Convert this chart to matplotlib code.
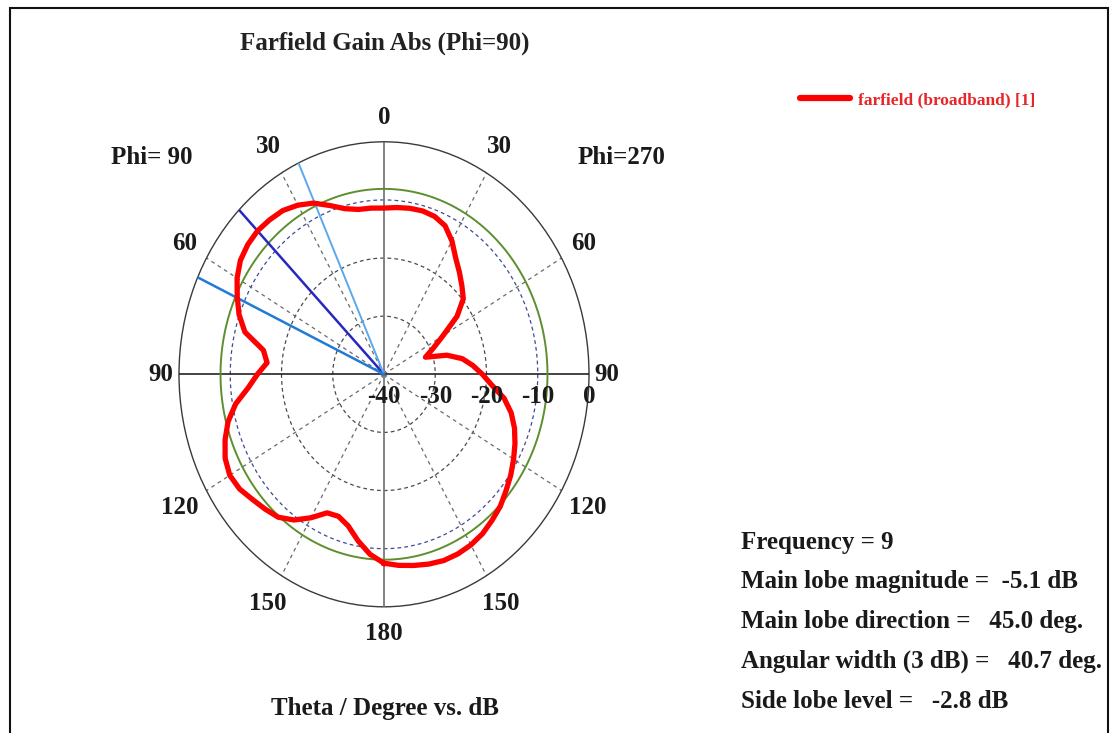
import numpy as np
import matplotlib
matplotlib.use("Agg")
import matplotlib.pyplot as plt
from matplotlib import transforms
from matplotlib.lines import Line2D
from matplotlib.patches import Rectangle

# Farfield gain cut (dB). Positive theta runs on the Phi=90 half (left),
# negative theta on the Phi=270 half (right).
theta_deg = [-180, -175, -170, -165, -160, -155, -150, -145, -140, -135,
             -130, -125, -120, -115, -110, -105, -100, -95, -90, -85,
             -80, -75, -70, -65, -60, -55, -50, -45, -40, -35,
             -30, -25, -20, -15, -10, -5, 0, 5, 10, 15,
             20, 25, 30, 35, 40, 45, 50, 55, 60, 65,
             70, 75, 80, 85, 90, 95, 100, 105, 110, 115,
             120, 125, 130, 135, 140, 145, 150, 155, 160, 165,
             170, 175, 180]
gain_db = [-7.5, -7.0, -6.6, -6.2, -5.9, -5.9, -6.1, -6.5, -7.2, -7.9,
           -8.9, -9.8, -10.8, -11.8, -12.9, -14.3, -16.2, -18.9, -20.8, -22.6,
           -24.5, -27.3, -31.4, -29.4, -26.7, -22.6, -19.8, -18.5, -17.1, -15.6,
           -13.5, -11.8, -11.1, -10.9, -11.0, -11.2, -11.4, -11.3, -11.2, -10.5,
           -9.1, -7.5, -6.4, -5.6, -5.3, -5.1, -5.3, -5.8, -6.9, -8.4,
           -9.9, -11.9, -16.1, -17.1, -15.3, -13.4, -10.6, -8.5, -7.0, -5.8,
           -5.25, -5.6, -6.5, -7.2, -7.9, -9.4, -11.5, -13.7, -14.0, -13.0,
           -10.9, -8.9, -7.5]

# Result summary
frequency = 9
main_lobe_mag = -5.1      # dB
main_lobe_dir = 45.0      # deg
angular_width = 40.7      # deg (3 dB)
side_lobe_level = -2.8    # dB

ring_levels = [-30, -20, -10]
radial_labels = [-40, -30, -20, -10, 0]
angle_labels = [0, 30, 60, 90, 120, 150, 180]
spoke_angles = [30, 60, 120, 150]

plt.rcParams['font.family'] = ['Liberation Serif', 'DejaVu Serif']
plt.rcParams['font.weight'] = 'bold'

W, H = 1113, 733
fig = plt.figure(figsize=(W / 100, H / 100), dpi=100)
fig.patch.set_facecolor('white')

# elliptical polar frame
cx, cy, rx, ry = 384, 374.3, 205, 232.5
ax = fig.add_axes([(cx - rx) / W, (H - cy - ry) / H, 2 * rx / W, 2 * ry / H],
                  projection='polar')
ax.set_aspect('auto')
ax.set_theta_zero_location('N')
ax.set_theta_direction(1)
ax.set_rlim(-40, 0)
ax.set_xticks([])
ax.set_yticks([])
ax.grid(False)
ax.spines['polar'].set_color('#3a3a3a')
ax.spines['polar'].set_linewidth(1.0)

full = np.linspace(0, 2 * np.pi, 721)

# dB rings
for lvl in ring_levels:
    col = '#3d4a96' if lvl == -10 else '#4a4a4a'
    ax.plot(full, np.full_like(full, lvl), color=col, lw=0.9,
            ls=(0, (3, 2.5)), zorder=2)

# angular spokes
for a in spoke_angles:
    for s in (1, -1):
        t = np.deg2rad(s * a)
        ax.plot([t, t], [-40, 0], color='#6a6a6a', lw=0.9,
                ls=(0, (3, 3)), zorder=2)

# main axes lines
for a in (90, -90):
    t = np.deg2rad(a)
    ax.plot([t, t], [-40, 0], color='#111111', lw=1.1, zorder=3)
for a in (0, 180):
    t = np.deg2rad(a)
    ax.plot([t, t], [-40, 0], color='#7a7a7a', lw=1.3, zorder=3)

# 3 dB level below main lobe
ax.plot(full, np.full_like(full, main_lobe_mag - 3.0), color='#5c8f2e',
        lw=1.4, zorder=4)

# main lobe direction and 3 dB beam edges
t_main = np.deg2rad(main_lobe_dir)
ax.plot([t_main, t_main], [-40, 0], color='#2828c0', lw=1.8, zorder=5)
t_lo = np.deg2rad(main_lobe_dir - angular_width / 2)
t_hi = np.deg2rad(main_lobe_dir + angular_width / 2)
ax.plot([t_lo, t_lo], [-40, 0], color='#5aa8ee', lw=1.4, zorder=5)
ax.plot([t_hi, t_hi], [-40, 0], color='#1f7ad8', lw=1.8, zorder=5)

# gain pattern
ax.plot(np.deg2rad(theta_deg), gain_db, color='#ff0000', lw=3.8,
        solid_joinstyle='round', zorder=6)

# angle labels around the frame
label_r = {0: 4.1, 30: 5.2, 60: 5.0, 90: 3.5, 120: 6.0, 150: 5.5, 180: 4.6}
for a in angle_labels:
    sides = (1,) if a in (0, 180) else (1, -1)
    for s in sides:
        ax.text(np.deg2rad(s * a), label_r[a], str(a), ha='center',
                va='center', fontsize=18, color='#1a1a1a', clip_on=False)

# radial dB labels below the right half-axis
lab_tr = transforms.offset_copy(ax.transData, fig=fig, x=0, y=-16,
                                units='points')
for v in radial_labels:
    ax.text(np.deg2rad(-90), v, str(v), transform=lab_tr, ha='center',
            va='center', fontsize=18, color='#1a1a1a', clip_on=False,
            zorder=7)

def fx(x):
    return x / W

def fy(y):
    return 1 - y / H

fig.text(fx(385), fy(43), 'Farfield Gain Abs (Phi=90)', ha='center',
         va='center', fontsize=18, color='#222222')
fig.text(fx(152), fy(158), 'Phi= 90', ha='center', va='center',
         fontsize=18, color='#1a1a1a')
fig.text(fx(621), fy(158), 'Phi=270', ha='center', va='center',
         fontsize=18, color='#1a1a1a')
fig.text(fx(385), fy(709), 'Theta / Degree vs. dB', ha='center',
         va='center', fontsize=18, color='#1a1a1a')

# legend
handle = Line2D([], [], color='#ff0000', lw=4.5, solid_capstyle='round')
fig.legend(handles=[handle], labels=['farfield (broadband) [1]'],
           loc='center left', bbox_to_anchor=(fx(800), fy(100)),
           frameon=False, borderpad=0, borderaxespad=0, handlelength=2.9,
           handletextpad=0.45, prop={'size': 12.5, 'weight': 'bold'},
           labelcolor='#e8262a')

# summary block
summary = [
    f'Frequency = {frequency}',
    f'Main lobe magnitude =  {main_lobe_mag:.1f} dB',
    f'Main lobe direction =   {main_lobe_dir:.1f} deg.',
    f'Angular width (3 dB) =   {angular_width:.1f} deg.',
    f'Side lobe level =   {side_lobe_level:.1f} dB',
]
baselines = [549, 588, 628, 668, 708]
for txt, yb in zip(summary, baselines):
    fig.text(fx(741), fy(yb), txt, ha='left', va='baseline', fontsize=18,
             color='#1a1a1a')

# outer frame
fig.add_artist(Rectangle((fx(10), -0.05), (1108 - 10) / W, fy(8) + 0.05,
                         transform=fig.transFigure, fill=False, lw=1.5,
                         ec='#111111'))

fig.savefig('out.png', dpi=100, facecolor='white')
